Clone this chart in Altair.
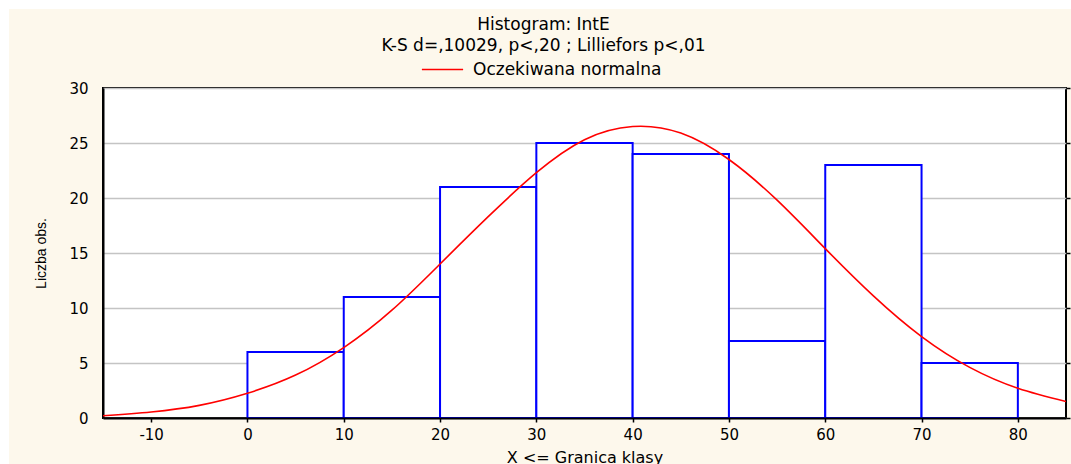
import altair as alt
import pandas as pd

# Histogram classes (upper class bounds on x axis) and counts
bin_start = [0, 10, 20, 30, 40, 50, 60, 70]
bin_end = [10, 20, 30, 40, 50, 60, 70, 80]
counts = [6, 11, 21, 25, 24, 7, 23, 5]

# Expected normal curve
curve_x = [-15, -10, -5, 0, 5, 10, 15, 20, 25, 30, 35, 40, 45, 50, 55, 60, 65, 70, 75, 80, 85]
curve_y = [0.2, 0.55, 1.15, 2.25, 3.9, 6.4, 9.8, 14.0, 18.3, 22.3, 25.3, 26.5, 25.9, 23.5,
           19.8, 15.4, 11.1, 7.4, 4.6, 2.7, 1.5]

x_ticks = [-10, 0, 10, 20, 30, 40, 50, 60, 70, 80]
y_ticks = [0, 5, 10, 15, 20, 25, 30]

title_lines = ["Histogram: IntE", "K-S d=,10029, p<,20 ; Lilliefors p<,01"]
legend_label = "Oczekiwana normalna"

hist = pd.DataFrame({"start": bin_start, "end": bin_end, "count": counts})
curve = pd.DataFrame({"x": curve_x, "y": curve_y, "series": [legend_label] * len(curve_x)})

FONT = "DejaVu Sans"
CREAM = "#FDF8EC"

xscale = alt.Scale(domain=[-15, 85], nice=False, zero=False)
yscale = alt.Scale(domain=[0, 30], nice=False)

bars = alt.Chart(hist).mark_rect(fill="white", stroke="#0000FF", strokeWidth=2).encode(
    x=alt.X("start:Q", scale=xscale,
            axis=alt.Axis(values=x_ticks, title="X <= Granica klasy", grid=False,
                          labelExpr="'' + datum.value",
                          labelFont=FONT, labelFontSize=15, labelColor="black",
                          tickColor="black", tickSize=4, tickWidth=1.5,
                          domainColor="black", domainWidth=2, labelPadding=5,
                          titleFont=FONT, titleFontSize=16, titleFontWeight="normal",
                          titleColor="black", titlePadding=7, zindex=1)),
    x2="end:Q",
    y=alt.Y("count:Q", scale=yscale,
            axis=alt.Axis(values=y_ticks, title="Liczba obs.", grid=True,
                          gridColor="#C4C4C4", gridWidth=1.5, ticks=False,
                          labelFont=FONT, labelFontSize=15, labelColor="black",
                          labelPadding=15, domainColor="black", domainWidth=2,
                          titleFont="Liberation Sans", titleFontSize=14,
                          titleFontWeight="normal", titleColor="black", titlePadding=20)),
    y2=alt.datum(0),
)

# right-hand frame ticks
right_ticks = alt.Chart(hist).mark_rect(opacity=0).encode(
    y=alt.Y("count:Q", scale=yscale,
            axis=alt.Axis(orient="right", values=y_ticks, labels=False, grid=False,
                          domain=False, tickColor="black", tickSize=4, tickWidth=1.5,
                          title=None)),
    x=alt.X("start:Q", scale=xscale),
    x2="end:Q",
    y2=alt.datum(0),
)

line = alt.Chart(curve).mark_line(strokeWidth=1.6, clip=True, interpolate="natural").encode(
    x=alt.X("x:Q", scale=xscale),
    y=alt.Y("y:Q", scale=yscale, axis=None),
    color=alt.Color("series:N",
                    scale=alt.Scale(domain=[legend_label], range=["#FF0000"]),
                    legend=alt.Legend(title=None, orient="none", legendX=318, legendY=-40,
                                      symbolType="stroke", symbolSize=1700,
                                      symbolStrokeWidth=1.5, labelFont=FONT,
                                      labelFontSize=17, labelColor="black",
                                      labelOffset=9, labelLimit=400, padding=0)),
)

# white page margin bands (top and left) seen in the reference
band_top = alt.Chart(hist).mark_rect(fill="white", clip=False).encode(
    x=alt.value(-103), x2=alt.value(970), y=alt.value(-88), y2=alt.value(-79))
band_left = alt.Chart(hist).mark_rect(fill="white", clip=False).encode(
    x=alt.value(-103), x2=alt.value(-94), y=alt.value(-88), y2=alt.value(380))

chart = alt.layer(band_top, band_left, bars, right_ticks, line).resolve_axis(
    y="independent"
).properties(
    width=963,
    height=330,
    autosize=alt.AutoSizeParams(type="none"),
    padding={"left": 103, "top": 88, "right": 5, "bottom": 46},
    background=CREAM,
    title=alt.TitleParams(text=title_lines, font=FONT, fontSize=17, fontWeight="normal",
                          color="black", lineHeight=21, anchor="middle", dx=-41, offset=-55),
).configure_view(stroke="black", strokeWidth=2, fill="white")

chart.save("out.html", embed_options={"renderer": "svg", "actions": False})
